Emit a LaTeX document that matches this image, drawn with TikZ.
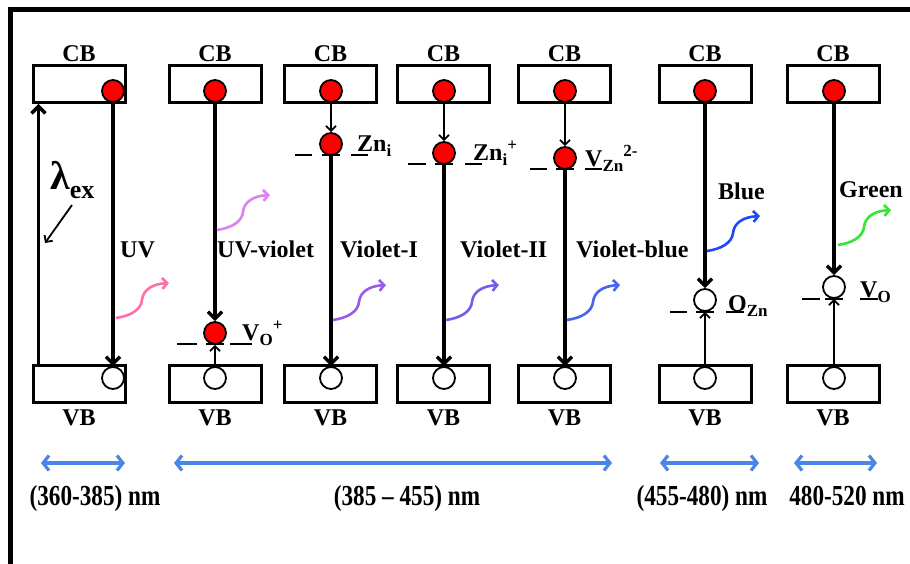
\documentclass[tikz,border=0pt]{standalone}
\usepackage{fontspec}
\usepackage{graphicx}
\setmainfont{Liberation Serif}
\usetikzlibrary{arrows.meta}
\definecolor{wpink}{HTML}{FF6EAA}
\definecolor{wlviolet}{HTML}{DC82F0}
\definecolor{wviolet}{HTML}{9A5BEB}
\definecolor{wvioletb}{HTML}{7A5AE6}
\definecolor{wvblue}{HTML}{4664F0}
\definecolor{wblue}{HTML}{1E46FF}
\definecolor{wgreen}{HTML}{33E633}
\definecolor{rangeblue}{HTML}{4A86E8}
\newcommand\lsub[1]{\raisebox{-5pt}{\fontsize{17}{17}\selectfont #1}}
\newcommand\lsup[1]{\raisebox{10pt}{\fontsize{17}{17}\selectfont #1}}
\newcommand\bigtxt{\fontsize{24}{24}\selectfont\bfseries}
\newcommand\rangetxt[1]{\scalebox{0.8}[1]{\fontsize{29}{29}\selectfont\bfseries #1}}
\begin{document}
\begin{tikzpicture}[x=1pt,y=-1pt,
  band/.style={draw,line width=3pt,minimum width=92pt,minimum height=37pt,inner sep=0pt},
  edot/.style={circle,draw,line width=1.8pt,fill=red,minimum size=22pt,inner sep=0pt},
  hole/.style={circle,draw,line width=1.8pt,fill=white,minimum size=22pt,inner sep=0pt},
  lbl/.style={font=\bigtxt,inner sep=0pt,anchor=base west},
  clbl/.style={font=\bigtxt,inner sep=0pt,anchor=base},
  rlbl/.style={inner sep=0pt,anchor=base},
  thickarr/.style={line width=3.4pt,-{Straight Barb[length=7pt,width=14pt]}},
  thinarr/.style={line width=1.8pt,-{Straight Barb[length=5pt,width=10pt]}},
  lvl/.style={line width=2.5pt},
  rangearr/.style={rangeblue,line width=3.2pt,{Straight Barb[length=6pt,width=15pt]}-{Straight Barb[length=6pt,width=15pt]}},
  wave/.pic={\draw[line width=2.6pt,pic actions,-{Straight Barb[length=5pt,width=11pt]}]
     (0,0) .. controls (14,-2) and (25,-8) .. (26,-18) .. controls (27,-28) and (36,-34) .. (53,-35);}
]
\useasboundingbox (0,0) rectangle (910,564);
\fill[white] (0,0) rectangle (910,564);
% frame
\draw[line width=5pt] (10.5,580) -- (10.5,9.5) -- (920,9.5);

% bands
\foreach \i/\x in {1/79,2/215,3/330.5,4/443.5,5/564.5,6/705,7/833}{
  \node[band] (cb\i) at (\x,84) {};
  \node[band] (vb\i) at (\x,383.5) {};
  \node[clbl] (cbl\i) at (\x,62) {CB};
  \node[clbl] (vbl\i) at (\x,425) {VB};
}

% electrons in CB and holes in VB
\node[edot] (e1) at (113,91) {};
\node[hole] (h1) at (113,378) {};
\foreach \i/\x in {2/215,3/331,4/444,5/565,6/705,7/834}{
  \node[edot] (e\i) at (\x,91) {};
  \node[hole] (h\i) at (\x,378) {};
}

% column 1
\draw[thickarr] ([xshift=7pt]vb1.north west) -- ([xshift=7pt]cb1.south west);
\draw[thickarr] (e1) -- (h1);
\node[inner sep=0pt,anchor=base west] (lam) at (50,190) {\fontsize{40}{40}\selectfont\bfseries λ\raisebox{-9pt}{\fontsize{26}{26}\selectfont ex}};
\coordinate (lamA) at (72,205);
\coordinate (lamB) at (45,243);
\draw[thinarr] (lamA) -- (lamB);
\node[lbl] (uv) at (120,257) {UV};
\coordinate (w1) at (116,318);
\pic[draw=wpink] at (w1) {wave};

% column 2
\node[edot] (d2) at (215,333) {};
\draw[thickarr] (e2) -- (d2);
\draw[thinarr] (h2) -- (d2);
\draw[lvl] (177,344) -- (197,344) (206,344) -- (224,344) (230,344) -- (252,344);
\node[lbl] (vo1) at (242,340) {V\lsub{O}\lsup{+}};
\node[lbl] (uvv) at (217,257) {UV-violet};
\coordinate (w2) at (217,230);
\pic[draw=wlviolet] at (w2) {wave};

% column 3
\node[edot] (d3) at (331,144) {};
\draw[thinarr] (e3) -- (d3);
\draw[thickarr] (d3) -- (h3);
\draw[lvl] (295,155) -- (312,155) (322,155) -- (340,155) (351,155) -- (368,155);
\node[lbl] (zni) at (357,152) {Zn\lsub{i}};
\node[lbl] (v1) at (340,257) {Violet-I};
\coordinate (w3) at (333,320);
\pic[draw=wviolet] at (w3) {wave};

% column 4
\node[edot] (d4) at (444,153) {};
\draw[thinarr] (e4) -- (d4);
\draw[thickarr] (d4) -- (h4);
\draw[lvl] (408,164) -- (426,164) (435,164) -- (453,164) (465,164) -- (482,164);
\node[lbl] (znip) at (473,161) {Zn\lsub{i}\lsup{+}};
\node[lbl] (v2) at (460,257) {Violet-II};
\coordinate (w4) at (446,320);
\pic[draw=wvioletb] at (w4) {wave};

% column 5
\node[edot] (d5) at (565,158) {};
\draw[thinarr] (e5) -- (d5);
\draw[thickarr] (d5) -- (h5);
\draw[lvl] (530,169) -- (547,169) (556,169) -- (574,169) (585,169) -- (602,169);
\node[lbl] (vzn) at (585,167) {V\lsub{Zn}\lsup{2-}};
\node[lbl] (vb) at (576,257) {Violet-blue};
\coordinate (w5) at (567,320);
\pic[draw=wvblue] at (w5) {wave};

% column 6
\node[hole] (d6) at (705,300) {};
\draw[thickarr] (e6) -- (d6);
\draw[thinarr] (h6) -- (d6);
\draw[lvl] (670,312) -- (687,312) (696,312) -- (714,312) (726,312) -- (744,312);
\node[lbl] (ozn) at (728,311) {O\lsub{Zn}};
\node[lbl] (blue) at (718,200) {Blue};
\coordinate (w6) at (707,251);
\pic[draw=wblue] at (w6) {wave};

% column 7
\node[hole] (d7) at (834,287) {};
\draw[thickarr] (e7) -- (d7);
\draw[thinarr] (h7) -- (d7);
\draw[lvl] (802,299) -- (820,299) (825,299) -- (843,299) (860,299) -- (878,299);
\node[lbl] (vo2) at (860,297) {V\lsub{O}};
\node[lbl] (green) at (839,197) {Green};
\coordinate (w7) at (838,245);
\pic[draw=wgreen] at (w7) {wave};

% ranges
\coordinate (r1a) at (41,463); \coordinate (r1b) at (125,463);
\coordinate (r2a) at (174,463); \coordinate (r2b) at (612,463);
\coordinate (r3a) at (660,463); \coordinate (r3b) at (759,463);
\coordinate (r4a) at (794,463); \coordinate (r4b) at (877,463);
\draw[rangearr] (r1a) -- (r1b);
\draw[rangearr] (r2a) -- (r2b);
\draw[rangearr] (r3a) -- (r3b);
\draw[rangearr] (r4a) -- (r4b);
\node[rlbl] (rl1) at (95,505) {\rangetxt{(360-385) nm}};
\node[rlbl] (rl2) at (407,505) {\rangetxt{(385 – 455) nm}};
\node[rlbl] (rl3) at (702,505) {\rangetxt{(455-480) nm}};
\node[rlbl] (rl4) at (847,505) {\rangetxt{480-520 nm}};
\end{tikzpicture}
\end{document}
